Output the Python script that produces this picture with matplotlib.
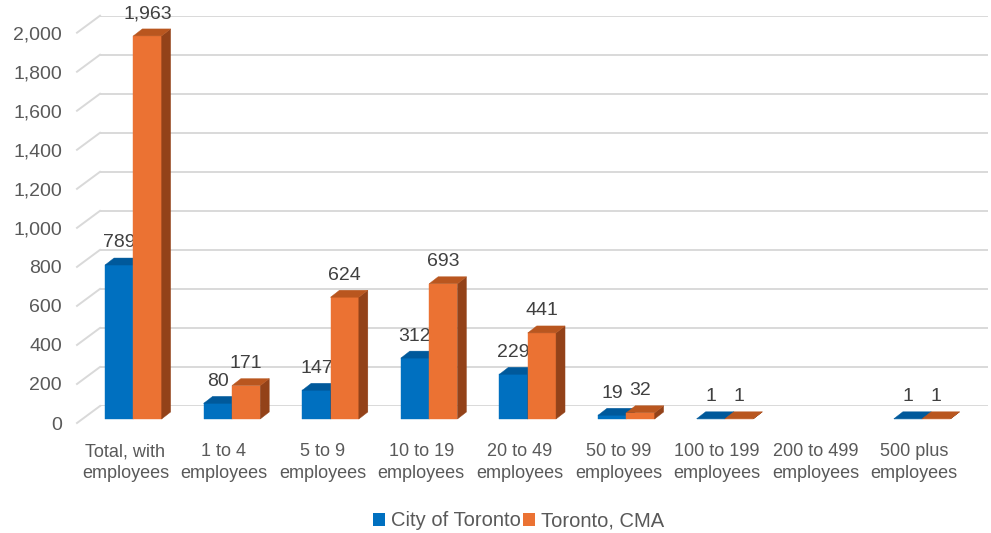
import numpy as np
import matplotlib
matplotlib.use("Agg")
import matplotlib.pyplot as plt
from matplotlib.patches import Polygon, Patch
from matplotlib.transforms import ScaledTranslation

categories = ["Total, with\nemployees", "1 to 4\nemployees", "5 to 9\nemployees",
              "10 to 19\nemployees", "20 to 49\nemployees", "50 to 99\nemployees",
              "100 to 199\nemployees", "200 to 499\nemployees", "500 plus\nemployees"]
city = [789, 80, 147, 312, 229, 19, 1, np.nan, 1]
cma = [1963, 171, 624, 693, 441, 32, 1, np.nan, 1]
series_names = ["City of Toronto", "Toronto, CMA"]
yticks = list(range(0, 2001, 200))

# face colours: front, top, side
blue = ("#0070C0", "#00599B", "#004C84")
orange = ("#EB7233", "#B9561F", "#934219")

plt.rcParams['font.family'] = ['Liberation Sans', 'DejaVu Sans']

fig = plt.figure(figsize=(9.91, 5.33), dpi=100)
# axes = back wall of the 3d chart
ax = fig.add_axes([100 / 991, (533 - 406) / 533, 888 / 991, 390.3 / 533])
ax.set_ylim(0, 2000)
ax.set_xlim(-0.338, -0.338 + 888 / 98.6)

px_x = 98.6            # pixels per category
px_y = 390.3 / 2000    # pixels per unit
bar_w = 28.3 / px_x
ddx, ddy = 9 / px_x, 7 / px_y
front = ax.transData + ScaledTranslation(0, -13 / 100, fig.dpi_scale_trans)

grid_c = "#D9D9D9"
for v in yticks:
    ax.axhline(v, color=grid_c, lw=1.4, zorder=0)
    ax.plot([-0.338, -0.338 - 23 / px_x], [v, v - 17 / px_y], color=grid_c,
            lw=1.4, clip_on=False, zorder=0)

for spine in ax.spines.values():
    spine.set_visible(False)

def bar3d(xl, v, cols):
    xr = xl + bar_w
    faces = [
        ([(xl, 0), (xr, 0), (xr, v), (xl, v)], cols[0]),
        ([(xr, 0), (xr + ddx, ddy), (xr + ddx, v + ddy), (xr, v)], cols[2]),
        ([(xl, v), (xr, v), (xr + ddx, v + ddy), (xl + ddx, v + ddy)], cols[1]),
    ]
    for pts, c in faces:
        ax.add_patch(Polygon(pts, closed=True, facecolor=c, edgecolor=c, lw=0.3,
                             transform=front, clip_on=False, zorder=3))

for i in range(len(categories)):
    for k, (vals, cols) in enumerate([(city, blue), (cma, orange)]):
        v = vals[i]
        if np.isnan(v):
            continue
        xl = i - bar_w + k * bar_w
        bar3d(xl, v, cols)
        ax.annotate(f"{int(v):,}", xy=(xl + bar_w / 2, v), xytext=(0, 6.5),
                    textcoords="offset points", ha="center", va="center",
                    fontsize=14, color="#404040", annotation_clip=False)

ax.set_yticks(yticks)
ax.set_yticklabels([f"{v:,}" for v in yticks])
ax.tick_params(axis="y", length=0, pad=27.4, labelsize=14, labelcolor="#595959")
shift = ScaledTranslation(0, -17 / 100, fig.dpi_scale_trans)
for t in ax.yaxis.get_major_ticks():
    t.label1.set_transform(t.label1.get_transform() + shift)

ax.set_xticks(np.arange(len(categories)) - 8 / px_x)
ax.set_xticklabels(categories, linespacing=1.35)
ax.tick_params(axis="x", length=0, pad=27, labelsize=13, labelcolor="#595959")

handles = [Patch(facecolor=blue[0]), Patch(facecolor=orange[0])]
fig.legend(handles, series_names, loc="center", bbox_to_anchor=(0.523, 0.023),
           ncol=2, frameon=False, fontsize=14.5, labelcolor="#595959",
           handlelength=0.6, handleheight=0.6, handletextpad=0.3, columnspacing=0.1)

fig.savefig("out.png", dpi=100)
